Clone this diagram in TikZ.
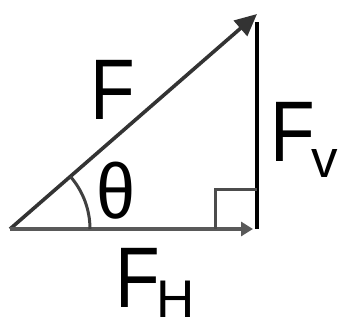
\documentclass[tikz,border=0pt]{standalone}
\usepackage{fontspec}
\setmainfont{Liberation Sans}
\usepackage{tikz}
\usetikzlibrary{arrows.meta}

\begin{document}
\begin{tikzpicture}[
  x=1pt, y=1pt,
  big/.style={inner sep=0pt, font=\fontsize{86}{86}\selectfont},
  side/.style={line width=3.6pt}
]
\useasboundingbox (0,0) rectangle (341,330);

\coordinate (O) at (10,101);
\coordinate (C) at (257,101);
\coordinate (T) at (257,316);

% sides of the triangle
\draw[side, black!80, -{Triangle[length=22pt,width=20pt]}] (O) -- (T);
\draw[side, black!65, -{Triangle[length=12pt,width=14pt]}] (O) -- ([xshift=-4pt]C);
\draw[side, black] (C) -- ([yshift=-8pt]T);

% right angle and angle mark
\draw[line width=3pt, black!70] ([xshift=-42pt]C) -- ++(0,39) -- ++(42,0);
\draw[line width=3pt, black!75] ([xshift=80pt]O) arc[start angle=0, end angle=41, radius=80];

% labels
\node (force) [big, anchor=base west] at (90,210) {\scalebox{0.85}[1]{F}};
\node (angle) [big, font=\fontsize{78}{78}\selectfont] at (116,139) {\scalebox{0.9}[1]{θ}};
\node (forcev) [big, anchor=base west] at (270,168)
{\scalebox{0.85}[1]{F}\kern-3pt\raisebox{-16pt}{\fontsize{53}{53}\selectfont v}};
\node (forceh) [big, anchor=base west] at (115,22)
{\scalebox{0.85}[1]{F}\kern-3pt\raisebox{-10pt}{\fontsize{53}{53}\selectfont H}};

\end{tikzpicture}
\end{document}
